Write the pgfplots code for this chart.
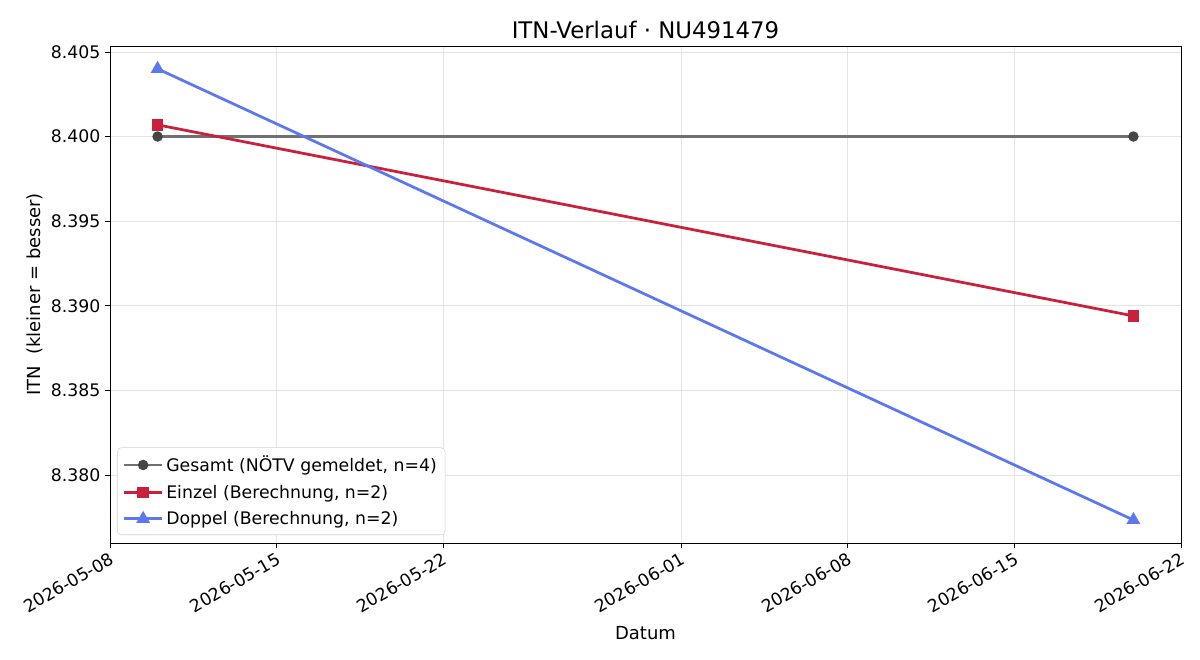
\documentclass[border=0pt]{standalone}
\usepackage{pgfplots}
\pgfplotsset{compat=1.18}
\usepackage{fontspec}
\setmainfont{DejaVu Sans}
\definecolor{cgray}{RGB}{112,112,112}
\definecolor{cgraym}{RGB}{70,70,70}
\definecolor{cred}{RGB}{201,32,60}
\definecolor{cblue}{RGB}{92,120,240}
\definecolor{cgrid}{RGB}{228,228,228}
\begin{document}
\begin{tikzpicture}[x=1in,y=1in]
\path[use as bounding box] (-1.10,-1.17) rectangle (10.90,5.43);
\begin{axis}[
  at={(0,0)}, anchor=south west,
  scale only axis, width=10.71in, height=4.97in,
  xmin=0, xmax=45, ymin=8.37598, ymax=8.40535,
  xtick={0,7,14,24,31,38,45},
  xticklabels={2026-05-08,2026-05-15,2026-05-22,2026-06-01,2026-06-08,2026-06-15,2026-06-22},
  xticklabel style={rotate=30, anchor=north east, font=\fontsize{12.5}{14}\selectfont, inner sep=2pt},
  ytick={8.380,8.385,8.390,8.395,8.400,8.405},
  yticklabel style={/pgf/number format/fixed, /pgf/number format/fixed zerofill, /pgf/number format/precision=3, font=\fontsize{12.5}{14}\selectfont},
  /pgf/number format/assume math mode=true,
  scaled y ticks=false,
  grid=major, grid style={cgrid, line width=0.6pt},
  axis line style={line width=0.7pt},
  tick style={black, line width=0.6pt},
  major tick length=3.5pt,
  tick align=outside, xtick pos=bottom, ytick pos=left,
  xlabel={Datum}, ylabel={ITN\ \ (kleiner = besser)},
  label style={font=\fontsize{13}{15}\selectfont},
  xlabel style={yshift=-3pt},
  ylabel style={yshift=-1pt},
  title={ITN-Verlauf · NU491479},
  title style={font=\fontsize{16.5}{19}\selectfont, yshift=-4pt},
  legend style={at={(0.0065,0.016)}, anchor=south west, draw=gray!35, rounded corners=3pt, font=\fontsize{12.5}{15}\selectfont, row sep=4pt, inner sep=4pt},
  legend cell align=left,
  legend image code/.code={\draw[mark repeat=2,mark phase=2,#1] plot coordinates {(0in,0in) (0.19in,0in) (0.38in,0in)};},
]
\addplot[cgray, line width=1.5pt, mark=*, mark size=3pt, mark options={fill=cgraym, draw=cgraym}] coordinates {(2,8.4000) (43,8.4000)};
\addlegendentry{Gesamt (NÖTV gemeldet, n=4)}
\addplot[cred, line width=2pt, mark=square*, mark size=3.2pt, mark options={fill=cred}] coordinates {(2,8.40069) (43,8.38940)};
\addlegendentry{Einzel (Berechnung, n=2)}
\addplot[cblue, line width=2pt, mark=triangle*, mark size=3.8pt, mark options={fill=cblue}] coordinates {(2,8.40400) (43,8.37734)};
\addlegendentry{Doppel (Berechnung, n=2)}
\end{axis}
\end{tikzpicture}
\end{document}
